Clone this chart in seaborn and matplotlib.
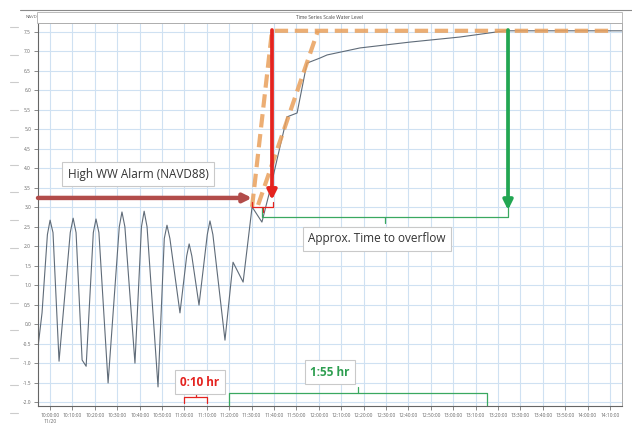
import numpy as np
import pandas as pd
import seaborn as sns
import matplotlib.pyplot as plt
from matplotlib.lines import Line2D
from matplotlib.patches import Rectangle
from matplotlib.ticker import MultipleLocator

# wet well level, minutes after 10:00 vs ft (NAVD88)
level_min = [-5.4, -3.6, -1.2, 0.0, 1.3, 4.0, 9.0, 10.3, 11.6, 14.3,
             16.1, 19.3, 20.5, 21.8, 25.9, 30.9, 32.1, 33.4, 37.9, 40.8,
             42.0, 43.3, 48.2, 51.0, 52.2, 53.5, 58.0, 61.0, 62.1, 63.3,
             66.5, 70.2, 71.4, 72.7, 78.1, 81.7, 86.2, 90.2, 94.6, 98.2,
             101.8, 105.8, 110.3, 114.7, 120.5, 123.7, 138.4, 160.7, 183.0, 203.1,
             255.4]
level_ft = [-0.59, 0.29, 2.30, 2.67, 2.35, -0.95, 2.35, 2.72, 2.35, -0.92,
            -1.08, 2.35, 2.70, 2.35, -1.51, 2.50, 2.88, 2.50, -1.00, 2.50,
            2.90, 2.50, -1.61, 2.20, 2.54, 2.20, 0.29, 1.75, 2.06, 1.75,
            0.49, 2.30, 2.65, 2.30, -0.41, 1.59, 1.08, 3.01, 2.62, 3.44,
            4.34, 5.32, 5.42, 6.70, 6.83, 6.91, 7.09, 7.24, 7.37, 7.53,
            7.53]

# hand drawn fill-up guides
fast_min = [90.2, 99.1, 252.0]
fast_ft = [3.01, 7.53, 7.53]
slow_min = [92.9, 119.6]
slow_ft = [3.06, 7.53]

alarm_ft = 3.24
alarm_hit_min = 90.2
full_fast_min = 99.1
overflow_min = 204.5
overflow_ft = 7.53

red_span = [60, 70]
green_span = [80, 195]

xtick_min = list(range(0, 251, 10))
xtick_labels = ["10:00:00\n11/20", "10:10:00", "10:20:00", "10:30:00", "10:40:00",
                "10:50:00", "11:00:00", "11:10:00", "11:20:00", "11:30:00",
                "11:40:00", "11:50:00", "12:00:00", "12:10:00", "12:20:00",
                "12:30:00", "12:40:00", "12:50:00", "13:00:00", "13:10:00",
                "13:20:00", "13:30:00", "13:40:00", "13:50:00", "14:00:00",
                "14:10:00"]
ytick_ft = [-2.0, -1.5, -1.0, -0.5, 0.0, 0.5, 1.0, 1.5, 2.0, 2.5,
            3.0, 3.5, 4.0, 4.5, 5.0, 5.5, 6.0, 6.5, 7.0, 7.5]

RED = '#e4231f'
GREEN = '#22a652'
ORANGE = '#e9a05c'

sns.set_style('white')
plt.rcParams['font.family'] = ['Open Sans', 'DejaVu Sans']

fig = plt.figure(figsize=(6.32, 4.28), dpi=100)
W, H = 632, 428
ax = fig.add_axes([38 / W, 1 - 406 / H, (622 - 38) / W, (406 - 23) / H])

df = pd.DataFrame({'minute': level_min, 'level': level_ft})
sns.lineplot(data=df, x='minute', y='level', ax=ax, color='#5f6b78', lw=0.8, sort=False)

# orange dashed guides
ax.plot(fast_min, fast_ft, color=ORANGE, lw=3, alpha=0.85, dashes=(3.2, 1.6))
ax.plot(slow_min, slow_ft, color=ORANGE, lw=3, alpha=0.85, dashes=(3.2, 1.6))

# alarm arrow (band look)
ax.annotate('', xy=(alarm_hit_min, alarm_ft), xytext=(-5.4, alarm_ft),
            arrowprops=dict(arrowstyle='-|>', color='#b24c4a', lw=3.2, mutation_scale=12,
                            shrinkA=0, shrinkB=0))
ax.plot([-5.4, alarm_hit_min - 3], [alarm_ft, alarm_ft], color='#e29a96', lw=1.1)

# vertical arrows
ax.annotate('', xy=(full_fast_min, 3.19), xytext=(full_fast_min, overflow_ft + 0.02),
            arrowprops=dict(arrowstyle='-|>', color=RED, lw=2.7, mutation_scale=14,
                            shrinkA=0, shrinkB=0))
ax.annotate('', xy=(overflow_min, 2.93), xytext=(overflow_min, overflow_ft + 0.02),
            arrowprops=dict(arrowstyle='-|>', color=GREEN, lw=2.7, mutation_scale=14,
                            shrinkA=0, shrinkB=0))


def bracket(x0, x1, y, end_dy, mid_dy, color):
    xm = (x0 + x1) / 2
    ax.plot([x0, x0, x1, x1], [y + end_dy, y, y, y + end_dy], color=color, lw=0.9)
    ax.plot([xm, xm], [y, y + mid_dy], color=color, lw=0.9)


bracket(94.6, overflow_min, 2.75, 0.25, -0.15, '#3aa860')
bracket(alarm_hit_min, full_fast_min + 0.5, 3.01, 0.12, -0.12, RED)
bracket(red_span[0], red_span[1], -1.87, -0.16, 0.10, RED)
bracket(green_span[0], green_span[1], -1.77, -0.33, 0.16, '#3aa860')

box = dict(boxstyle='square,pad=0.45', fc='white', ec='#c9c9c9', lw=0.8)
ax.text(39.3, 3.85, 'High WW Alarm (NAVD88)', ha='center', va='center',
        fontsize=8.5, color='#333333', bbox=box)
ax.text(146, 2.19, 'Approx. Time to overflow', ha='center', va='center',
        fontsize=8.5, color='#333333', bbox=box)
ax.text(67, -1.49, '0:10 hr', ha='center', va='center', fontsize=8.5,
        fontweight='bold', color=RED, bbox=box)
ax.text(125, -1.23, '1:55 hr', ha='center', va='center', fontsize=8.5,
        fontweight='bold', color='#2e9e50', bbox=box)

# axes look
ax.set_xlim(-5.4, 255.4)
ax.set_ylim(-2.10, 7.73)
ax.set_xticks(xtick_min)
ax.set_xticklabels(xtick_labels)
ax.set_yticks(ytick_ft)
ax.set_yticklabels([f'{v:.1f}' for v in ytick_ft])
ax.xaxis.set_minor_locator(MultipleLocator(2))
ax.yaxis.set_minor_locator(MultipleLocator(0.1))
ax.tick_params(axis='both', which='major', labelsize=3.5, labelcolor='#666666',
               length=3, width=0.6, color='#777777', pad=2, direction='out')
ax.tick_params(axis='both', which='minor', length=1.5, width=0.4, color='#888888')
ax.tick_params(axis='x', bottom=True)
ax.tick_params(axis='y', left=True)
ax.grid(True, which='major', color='#cfe1f2', lw=0.8)
ax.set_axisbelow(True)
ax.set_xlabel('')
ax.set_ylabel('')
for side in ['left', 'bottom']:
    ax.spines[side].set_color('#666666')
    ax.spines[side].set_linewidth(0.8)
for side in ['top', 'right']:
    ax.spines[side].set_color('#aaaaaa')
    ax.spines[side].set_linewidth(0.7)

# chart title strip and page remnants
fig.add_artist(Rectangle((37 / W, 1 - 23 / H), (622 - 37) / W, 11 / H,
                         transform=fig.transFigure, fill=False, ec='#b0b0b0', lw=0.6))
fig.text(330 / W, 1 - 17.5 / H, 'Time Series Scale Water Level', ha='center', va='center',
         fontsize=3.5, color='#444444')
fig.text(31 / W, 1 - 17 / H, 'NAVD', ha='center', va='center', fontsize=3.2, color='#666666')
fig.add_artist(Line2D([20 / W, 1], [1 - 10 / H, 1 - 10 / H], transform=fig.transFigure,
                      color='#8a8a8a', lw=0.8))
for yy in np.linspace(27, 413, 15):
    fig.add_artist(Line2D([10 / W, 18 / W], [1 - yy / H, 1 - yy / H],
                          transform=fig.transFigure, color='#cccccc', lw=0.8))

fig.savefig('out.png', dpi=100, facecolor='white')
